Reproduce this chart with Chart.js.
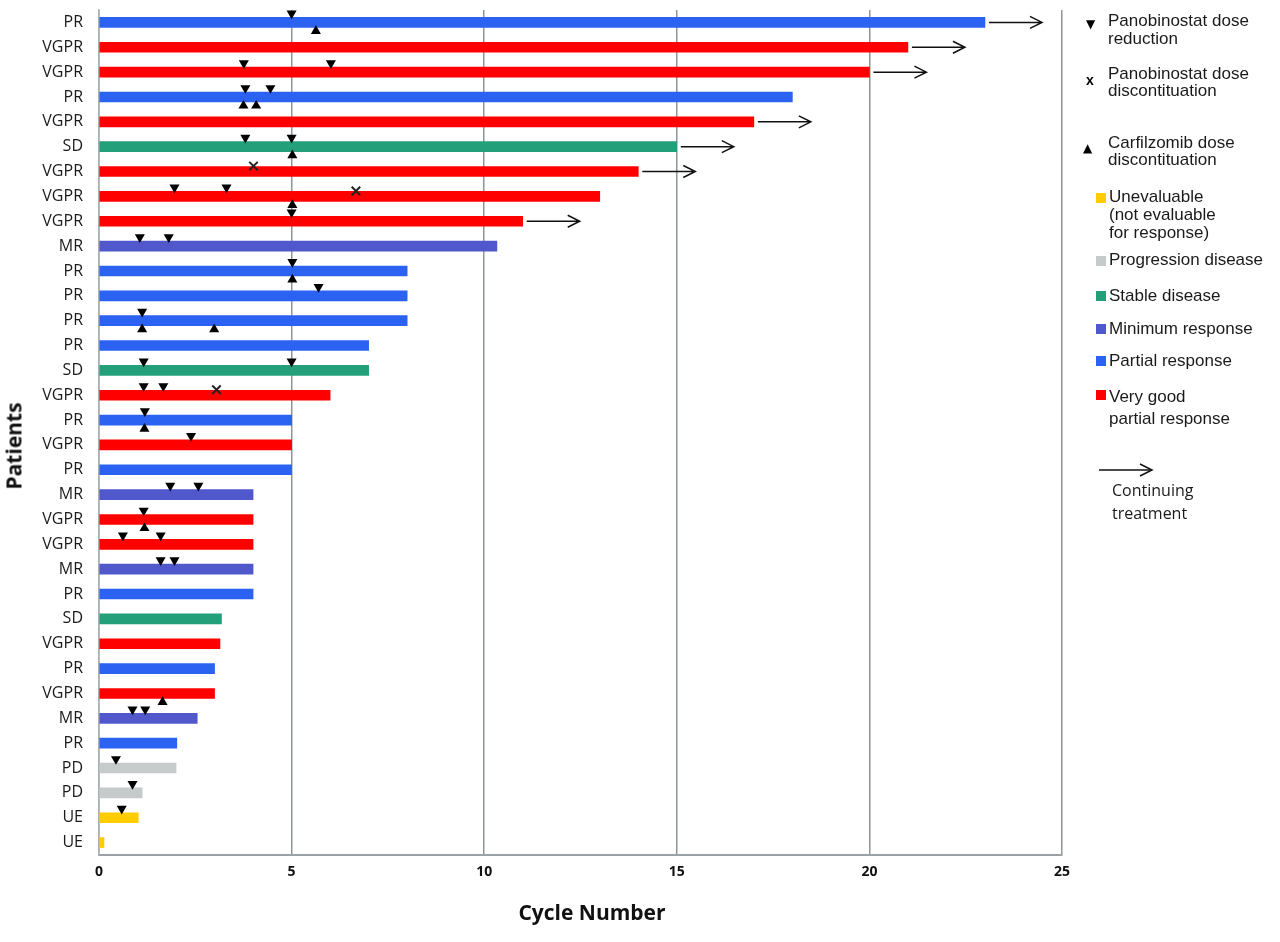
<!DOCTYPE html>
<html>
<head>
<meta charset="utf-8">
<script src="https://cdn.jsdelivr.net/npm/chart.js@4"></script>
<style>
  html, body { margin: 0; padding: 0; background: #fff; }
  #wrap { position: relative; width: 1280px; height: 942px; }
  #chart { position: absolute; left: 0; top: 0; }
  .lg { position: absolute; font-family: 'Liberation Sans', Arial, sans-serif; font-size: 17px; color: #1a1a1a; line-height: 17px; white-space: nowrap; }
  .sym { position: absolute; font-family: 'DejaVu Sans', sans-serif; color: #000; line-height: 1; }
  .sq { position: absolute; width: 10px; height: 10px; }
  .ttl { position: absolute; font-family: 'Open Sans', sans-serif; font-weight: bold; font-size: 21px; line-height: 21px; color: #111; white-space: nowrap; }
</style>
</head>
<body>
<div id="wrap">
  <canvas id="chart" width="1280" height="942"></canvas>

  <div class="ttl" style="left:14px;top:446px;transform:translate(-50%,-50%) rotate(-90deg);">Patients</div>
  <div class="ttl" style="left:592px;top:902px;transform:translateX(-50%);">Cycle Number</div>

  <div class="sym" style="left:1086px;top:18px;font-size:12px;">▼</div>
  <div class="lg" style="left:1108px;top:12px;line-height:18px;">Panobinostat dose<br>reduction</div>

  <div class="sym" style="left:1086px;top:73px;font-size:14px;font-weight:bold;font-family:'Liberation Sans',sans-serif;">x</div>
  <div class="lg" style="left:1108px;top:65px;">Panobinostat dose<br>discontituation</div>

  <div class="sym" style="left:1083px;top:142px;font-size:12px;">▲</div>
  <div class="lg" style="left:1108px;top:134px;">Carfilzomib dose<br>discontituation</div>

  <div class="sq" style="left:1096px;top:193px;background:#ffcc00;"></div>
  <div class="lg" style="left:1109px;top:188px;line-height:18px;">Unevaluable<br>(not evaluable<br>for response)</div>

  <div class="sq" style="left:1096px;top:256px;background:#c5cbcb;"></div>
  <div class="lg" style="left:1109px;top:251px;line-height:18px;">Progression disease</div>

  <div class="sq" style="left:1096px;top:291px;background:#23a07a;"></div>
  <div class="lg" style="left:1109px;top:287px;line-height:18px;">Stable disease</div>

  <div class="sq" style="left:1096px;top:324px;background:#5058cc;"></div>
  <div class="lg" style="left:1109px;top:320px;line-height:18px;">Minimum response</div>

  <div class="sq" style="left:1096px;top:356px;background:#2b62f2;"></div>
  <div class="lg" style="left:1109px;top:352px;line-height:18px;">Partial response</div>

  <div class="sq" style="left:1096px;top:390px;background:#ff0000;"></div>
  <div class="lg" style="left:1109px;top:386px;line-height:22px;">Very good<br>partial response</div>

  <svg style="position:absolute;left:1096px;top:460px;" width="62" height="20">
    <line x1="3" y1="10" x2="56" y2="10" stroke="#111" stroke-width="1.5"/>
    <polyline points="44,4 56,10 44,16" fill="none" stroke="#111" stroke-width="1.5"/>
  </svg>
  <div class="lg" style="left:1112px;top:479px;line-height:23px;font-size:16px;font-family:'Open Sans',sans-serif;">Continuing<br>treatment</div>
</div>

<script>
// one row per patient, top to bottom
const responses = ['PR', 'VGPR', 'VGPR', 'PR', 'VGPR', 'SD', 'VGPR', 'VGPR', 'VGPR', 'MR',
  'PR', 'PR', 'PR', 'PR', 'SD', 'VGPR', 'PR', 'VGPR', 'PR', 'MR',
  'VGPR', 'VGPR', 'MR', 'PR', 'SD', 'VGPR', 'PR', 'VGPR', 'MR', 'PR',
  'PD', 'PD', 'UE', 'UE'];
const cycles = [23, 21, 20, 18, 17, 15, 14, 13, 11, 10.33,
  8, 8, 8, 7, 7, 6, 5, 5, 5, 4,
  4, 4, 4, 4, 3.18, 3.14, 3.0, 3.0, 2.55, 2.02,
  2.0, 1.12, 1.02, 0.13];
// rows still on treatment (arrow)
const continuing = [0, 1, 2, 4, 5, 6, 8];

// [row, cycle]
const panoReduction = [[0, 5.0], [2, 3.76], [2, 6.02], [3, 3.8], [3, 4.45], [5, 3.8], [5, 5.0],
  [7, 1.96], [7, 3.31], [8, 5.0], [9, 1.06], [9, 1.81], [10, 5.02], [11, 5.7], [12, 1.12],
  [14, 1.16], [14, 5.0], [15, 1.16], [15, 1.67], [16, 1.19], [17, 2.39], [19, 1.85], [19, 2.58],
  [20, 1.16], [21, 0.62], [21, 1.6], [22, 1.6], [22, 1.96], [28, 0.87], [28, 1.2],
  [30, 0.44], [31, 0.87], [32, 0.59]];
const panoDiscontinued = [[6, 4.01], [7, 6.67], [15, 3.05]];
const carfDiscontinued = [[0, 5.63], [3, 3.75], [3, 4.08], [5, 5.02], [7, 5.02], [10, 5.02],
  [12, 1.12], [12, 2.99], [16, 1.18], [20, 1.18], [27, 1.65]];

const xTicks = [0, 5, 10, 15, 20, 25];

const responseColors = {
  VGPR: '#ff0000', PR: '#2b62f2', MR: '#5058cc', SD: '#23a07a', PD: '#c5cbcb', UE: '#ffcc00'
};

const toPoints = (list, shift) => list.map(([row, c]) => ({ x: c, y: row + shift }));

const arrowPlugin = {
  id: 'continuing',
  afterDatasetsDraw(chart) {
    const { ctx, scales } = chart;
    ctx.save();
    ctx.strokeStyle = '#111';
    ctx.lineWidth = 1.5;
    continuing.forEach(row => {
      const x0 = scales.x.getPixelForValue(cycles[row]) + 4;
      const x1 = x0 + 53;
      const y = scales.y.getPixelForValue(row);
      ctx.beginPath();
      ctx.moveTo(x0, y);
      ctx.lineTo(x1, y);
      ctx.moveTo(x1 - 12, y - 6);
      ctx.lineTo(x1, y);
      ctx.lineTo(x1 - 12, y + 6);
      ctx.stroke();
    });
    ctx.restore();
  }
};

const ctx = document.getElementById('chart').getContext('2d');
new Chart(ctx, {
  type: 'bar',
  data: {
    datasets: [
      {
        label: 'Cycles',
        data: cycles.map((c, i) => ({ x: c, y: i })),
        backgroundColor: responses.map(r => responseColors[r]),
        barThickness: 10,
        order: 2
      },
      {
        type: 'scatter',
        label: 'Panobinostat dose reduction',
        data: toPoints(panoReduction, -0.36),
        pointStyle: 'triangle',
        rotation: 180,
        pointRadius: 5.8,
        backgroundColor: '#000',
        borderColor: '#000',
        borderWidth: 0,
        order: 1
      },
      {
        type: 'scatter',
        label: 'Panobinostat dose discontituation',
        data: toPoints(panoDiscontinued, -0.22),
        pointStyle: 'crossRot',
        pointRadius: 6,
        borderColor: '#222',
        borderWidth: 2,
        order: 1
      },
      {
        type: 'scatter',
        label: 'Carfilzomib dose discontituation',
        data: toPoints(carfDiscontinued, 0.35),
        pointStyle: 'triangle',
        pointRadius: 5.8,
        backgroundColor: '#000',
        borderColor: '#000',
        borderWidth: 0,
        order: 1
      }
    ]
  },
  options: {
    indexAxis: 'y',
    responsive: false,
    animation: false,
    layout: { padding: { top: 10, right: 218, left: 0, bottom: 0 } },
    plugins: {
      legend: { display: false },
      tooltip: { enabled: false }
    },
    scales: {
      x: {
        type: 'linear',
        position: 'bottom',
        min: 0,
        max: 25,
        afterBuildTicks: s => { s.ticks = xTicks.map(v => ({ value: v })); },
        afterFit: s => { s.height = 87; },
        grid: { color: '#8d959a', lineWidth: 1.5, drawTicks: false },
        border: { color: '#9aa2a6', width: 2 },
        ticks: {
          padding: 9,
          color: '#111',
          font: { family: "'Open Sans', sans-serif", size: 14, weight: 'bold' }
        }
      },
      y: {
        type: 'linear',
        position: 'left',
        reverse: true,
        offset: false,
        min: -0.5,
        max: 33.5,
        afterBuildTicks: s => { s.ticks = responses.map((_, i) => ({ value: i })); },
        afterFit: s => { s.width = 99; s.paddingTop = 0; s.paddingBottom = 0; },
        grid: { display: false, drawTicks: false },
        border: { display: true, color: '#a8b0b4', width: 1.5 },
        ticks: {
          autoSkip: false,
          padding: 16,
          color: '#1a1a1a',
          font: { family: "'Open Sans', sans-serif", size: 16 },
          callback: v => responses[v]
        }
      }
    }
  },
  plugins: [arrowPlugin]
});
</script>
</body>
</html>
